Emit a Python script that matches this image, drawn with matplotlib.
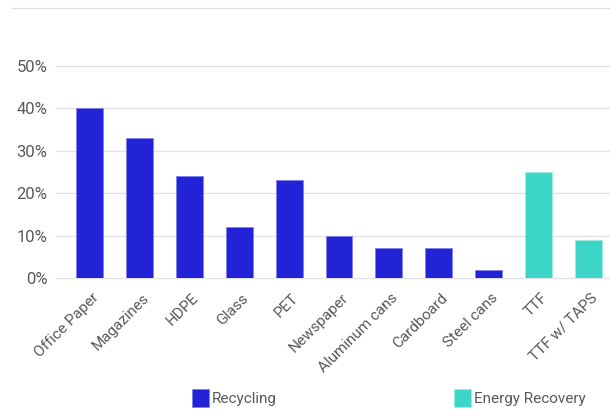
import matplotlib.pyplot as plt
from matplotlib.lines import Line2D
from matplotlib.patches import Patch
from matplotlib.ticker import PercentFormatter
from matplotlib.transforms import ScaledTranslation
from matplotlib import font_manager

categories = ["Office Paper", "Magazines", "HDPE", "Glass", "PET", "Newspaper",
              "Aluminum cans", "Cardboard", "Steel cans", "TTF", "TTF w/ TAPS"]
values = [40, 33, 24, 12, 23, 10, 7, 7, 2, 25, 9]
groups = ["Recycling"] * 9 + ["Energy Recovery"] * 2

BLUE = "#2222D6"
TEAL = "#3DD5C8"
group_colors = {"Recycling": BLUE, "Energy Recovery": TEAL}
edge_colors = {"Recycling": "#8080F0", "Energy Recovery": "#9AEDE5"}

names = {f.name for f in font_manager.fontManager.ttflist}
family = "Liberation Sans Narrow" if "Liberation Sans Narrow" in names else "Roboto"
plt.rcParams["font.family"] = [family, "DejaVu Sans"]

fig = plt.figure(figsize=(6.1, 4.2), dpi=100)
ax = fig.add_axes([56 / 610, 1 - 278 / 420, 1 - 56 / 610, (278 - 66) / 420])

x = list(range(len(categories)))
ax.bar(x, [v / 100 for v in values], width=0.54,
       color=[group_colors[g] for g in groups],
       edgecolor=[edge_colors[g] for g in groups], linewidth=0.6, zorder=3)

ax.set_ylim(0, 0.5)
ax.set_xlim(-0.68, 10.44)
ax.set_yticks([0, 0.1, 0.2, 0.3, 0.4, 0.5])
ax.yaxis.set_major_formatter(PercentFormatter(1.0, decimals=0))
ax.grid(axis="y", color="#E3E3E3", linewidth=1.0, zorder=0)
for s in ax.spines.values():
    s.set_visible(False)
for gl in ax.get_ygridlines():
    gl.set_clip_on(False)
ax.tick_params(axis="both", length=0, colors="#595959", labelsize=12)
ax.tick_params(axis="y", pad=6)
ax.set_xticks(x)
ax.set_xticklabels(categories, rotation=45, ha="right", rotation_mode="anchor",
                   fontsize=11, color="#595959")
shift = ScaledTranslation(2 / 100, -8 / 100, fig.dpi_scale_trans)
for lbl in ax.get_xticklabels():
    lbl.set_transform(lbl.get_transform() + shift)

fig.add_artist(Line2D([12 / 610, 1], [1 - 8 / 420, 1 - 8 / 420], color="#E0E0E0",
                      linewidth=1.0, transform=fig.transFigure))

for label, xpos in [("Recycling", 192 / 610), ("Energy Recovery", 454 / 610)]:
    fig.legend(handles=[Patch(facecolor=group_colors[label],
                              edgecolor=edge_colors[label], linewidth=0.6)],
               labels=[label], loc="center left", bbox_to_anchor=(xpos, 1 - 398 / 420),
               frameon=False, fontsize=11, handlelength=1.1, handleheight=1.5,
               handletextpad=0.2, borderpad=0, borderaxespad=0,
               labelcolor="#595959")

fig.savefig("out.png", dpi=100)
